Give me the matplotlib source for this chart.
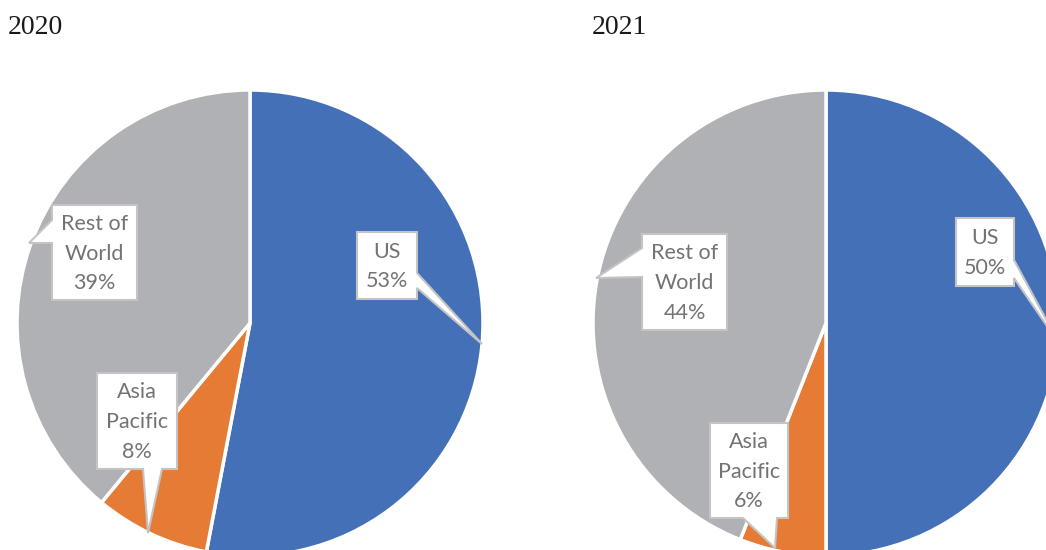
import matplotlib.pyplot as plt
from matplotlib.patches import Polygon

# data
regions = ['US', 'Asia\nPacific', 'Rest of\nWorld']
share_2020 = [53, 8, 39]
share_2021 = [50, 6, 44]
years = ['2020', '2021']
colors = ['#4470B8', '#E57B34', '#B0B1B5']

fig = plt.figure(figsize=(10.46, 5.5), dpi=100)
ax = fig.add_axes([0, 0, 1, 1])

centers = [(250, 323), (826, 323)]
R = 233

for vals, c in zip([share_2020, share_2021], centers):
    # y axis is flipped below, so startangle -90 + counterclock -> clockwise from top
    ax.pie(vals, colors=colors, startangle=-90, counterclock=True,
           center=c, radius=R,
           wedgeprops=dict(edgecolor='white', linewidth=2.5))

ax.set_xlim(0, 1046)
ax.set_ylim(550, 0)
ax.set_aspect('auto')
ax.axis('off')

ax.text(8, 27, years[0], fontsize=20, family='Liberation Serif',
        va='center', ha='left', color='#1a1a1a')
ax.text(592, 27, years[1], fontsize=20, family='Liberation Serif',
        va='center', ha='left', color='#1a1a1a')


def callout(box, side, base, tip, text):
    x0, y0, x1, y1 = box
    b0, b1 = base
    if side == 'left':
        pts = [(x0, y0), (x1, y0), (x1, y1), (x0, y1), (x0, b1), tip, (x0, b0)]
    elif side == 'right':
        pts = [(x0, y0), (x1, y0), (x1, b0), tip, (x1, b1), (x1, y1), (x0, y1)]
    else:  # bottom
        pts = [(x0, y0), (x1, y0), (x1, y1), (b1, y1), tip, (b0, y1), (x0, y1)]
    ax.add_patch(Polygon(pts, closed=True, facecolor='white',
                         edgecolor='#C4C4C4', linewidth=1.5, zorder=5))
    ax.text((x0 + x1) / 2, (y0 + y1) / 2 + 1, text, ha='center', va='center',
            fontsize=15.5, family='Lato', color='#737373', linespacing=1.6,
            zorder=6)


lab20 = [f'{r}\n{v}%' for r, v in zip(regions, share_2020)]
lab21 = [f'{r}\n{v}%' for r, v in zip(regions, share_2021)]

callout((357, 232, 417, 299), 'right', (273, 288), (482, 344), lab20[0])
callout((97, 373, 177, 469), 'bottom', (143, 162), (148, 533), lab20[1])
callout((52, 205, 137, 300), 'left', (220, 243), (29, 243), lab20[2])

callout((956, 218, 1014, 286), 'right', (260, 278), (1060, 345), lab21[0])
callout((710, 423, 788, 518), 'bottom', (743, 777), (775, 548), lab21[1])
callout((642, 234, 727, 330), 'left', (248, 277), (596, 278), lab21[2])

fig.savefig('out.png', dpi=100)
